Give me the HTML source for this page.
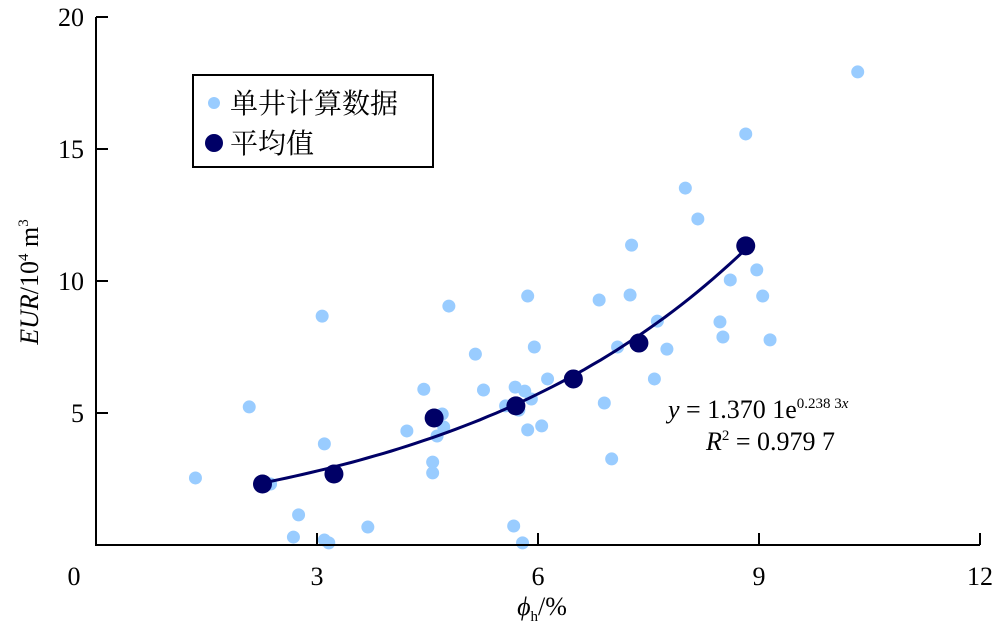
<!DOCTYPE html>
<html><head><meta charset="utf-8"><style>
body{margin:0;background:#fff}
svg text{font-family:"Liberation Serif","Noto Serif CJK SC",serif;fill:#000}
</style></head><body>
<svg width="1000" height="639" viewBox="0 0 1000 639" xmlns="http://www.w3.org/2000/svg">
<g id="plot"></g>
<g id="axes"></g>
<g>
<rect x="193" y="75" width="240" height="92" fill="#fff" stroke="#000" stroke-width="2"/>
<circle cx="214" cy="103" r="6" fill="#99ccff"/>
<text x="230" y="113" font-size="28" font-family="Noto Sans CJK SC, sans-serif">单井计算数据</text>
<circle cx="214" cy="143" r="9" fill="#000066"/>
<text x="230" y="153" font-size="28" font-family="Noto Sans CJK SC, sans-serif">平均值</text>
</g>
<text x="668" y="418" font-size="26"><tspan font-style="italic">y</tspan> = 1.370 1e<tspan font-size="15" dy="-10">0.238 3<tspan font-style="italic">x</tspan></tspan></text>
<text x="706" y="450" font-size="26"><tspan font-style="italic">R</tspan><tspan font-size="15" dy="-10">2</tspan><tspan dy="10"> = 0.979 7</tspan></text>
<text transform="translate(38,282) rotate(-90)" text-anchor="middle" font-size="26"><tspan font-style="italic">EUR</tspan>/10<tspan font-size="15" dy="-10">4</tspan><tspan dy="10"> m</tspan><tspan font-size="15" dy="-10">3</tspan></text>
<text x="542" y="615" font-size="26" text-anchor="middle"><tspan font-style="italic">ϕ</tspan><tspan font-size="15" dy="6">h</tspan><tspan dy="-6">/%</tspan></text>
</svg>
<script>
const singleX=[10.34,8.82,8.0,8.17,7.27,8.97,8.61,9.05,5.86,7.25,6.83,4.79,3.07,7.62,8.47,8.51,9.15,7.08,5.95,7.75,5.15,7.58,6.13,4.45,5.26,5.69,5.82,5.91,2.08,6.9,4.7,5.56,5.74,4.72,4.63,4.22,6.05,5.86,3.1,4.57,4.57,7.0,1.35,2.37,2.75,3.69,2.68,5.67,3.1,3.16,5.79];
const singleY=[17.92,15.57,13.52,12.35,11.36,10.42,10.04,9.43,9.43,9.47,9.28,9.05,8.67,8.48,8.45,7.88,7.77,7.5,7.5,7.42,7.23,6.29,6.29,5.9,5.87,5.98,5.83,5.53,5.23,5.38,4.96,5.27,5.11,4.47,4.13,4.32,4.51,4.36,3.83,3.14,2.73,3.26,2.54,2.31,1.14,0.68,0.3,0.72,0.19,0.08,0.08];
const meanX=[2.26,3.23,4.59,5.70,6.48,7.37,8.82];
const meanY=[2.31,2.69,4.81,5.27,6.29,7.65,11.33];
const fitA=1.3701, fitB=0.2383;
const xTicks=[0,3,6,9,12];
const yTicks=[5,10,15,20];
const X0=96,X1=980,Y0=545,Y1=17;
const sx=v=>X0+(v/12)*(X1-X0);
const sy=v=>Y0-(v/20)*(Y0-Y1);
const NS="http://www.w3.org/2000/svg";
const plot=document.getElementById('plot'),axes=document.getElementById('axes');
function mk(t,a,p){const e=document.createElementNS(NS,t);for(const k in a)e.setAttribute(k,a[k]);p.appendChild(e);return e;}
singleX.forEach((x,i)=>{const c=mk('circle',{cx:sx(x),cy:sy(singleY[i]),r:6.5,fill:'#99ccff'},plot);

});
let d='';for(let i=0;i<=60;i++){const x=meanX[0]+(meanX[meanX.length-1]-meanX[0])*i/60;d+=(i?'L':'M')+sx(x).toFixed(1)+','+sy(fitA*Math.exp(fitB*x)).toFixed(1);}
const fl=mk('path',{d:d,fill:'none',stroke:'#000066','stroke-width':3},plot);


meanX.forEach((x,i)=>{const c=mk('circle',{cx:sx(x),cy:sy(meanY[i]),r:9.5,fill:'#000066'},plot);

});
const ax=mk('path',{d:`M${X0},${Y1}L${X0},${Y0}L${X1},${Y0}`,fill:'none',stroke:'#000','stroke-width':2},axes);


xTicks.forEach(v=>{if(v>0){const t=mk('line',{x1:sx(v),x2:sx(v),y1:Y0,y2:Y0-12,stroke:'#000','stroke-width':2},axes);

}
const l=mk('text',{x:sx(v)+(v===0?-22:0),y:585,'text-anchor':'middle','font-size':26},axes);l.textContent=v;

});
yTicks.forEach(v=>{const t=mk('line',{x1:X0,x2:X0+12,y1:sy(v),y2:sy(v),stroke:'#000','stroke-width':2},axes);


const l=mk('text',{x:84,y:sy(v)+9,'text-anchor':'end','font-size':26},axes);l.textContent=v;

});
</script>
</body></html>
